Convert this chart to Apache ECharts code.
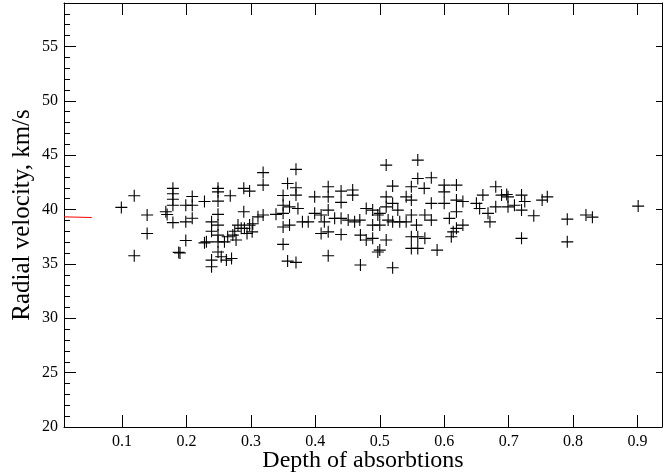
<!DOCTYPE html>
<html>
<head>
<meta charset="utf-8">
<title>Radial velocity vs depth</title>
<script src="https://cdn.jsdelivr.net/npm/echarts@6/dist/echarts.min.js"></script>
<style>
    html, body { margin: 0; padding: 0; background: #fff; }
    #main { width: 663px; height: 474px; }
</style>
</head>
<body>
<div id="main"></div>
<script>
// tick labels
var xTicks = [0.1, 0.2, 0.3, 0.4, 0.5, 0.6, 0.7, 0.8, 0.9];
var yTicks = [20, 25, 30, 35, 40, 45, 50, 55];
var yMajor = [25, 30, 35, 40, 45, 50, 55];

// depth / velocity pairs
var depth = [
    0.099, 0.119, 0.119, 0.139, 0.139, 0.168, 0.170,
    0.179, 0.179, 0.179, 0.179, 0.179, 0.188, 0.190,
    0.199, 0.199, 0.199, 0.209, 0.209, 0.209, 0.228, 0.228,
    0.249, 0.249, 0.249, 0.268, 0.289, 0.298, 0.319, 0.319, 0.289, 0.249,
    0.239, 0.239, 0.239, 0.239, 0.231,
    0.249, 0.249, 0.249, 0.249, 0.254, 0.259, 0.262, 0.270, 0.264, 0.272,
    0.277, 0.275, 0.280, 0.285, 0.290, 0.294, 0.298, 0.302, 0.303, 0.311,
    0.319, 0.339, 0.350, 0.350, 0.350, 0.350, 0.350, 0.357, 0.357,
    0.370, 0.370, 0.370, 0.360, 0.373, 0.360, 0.370,
    0.380, 0.389, 0.399, 0.399, 0.409, 0.409, 0.414,
    0.420, 0.420, 0.420, 0.420, 0.420,
    0.430, 0.440, 0.440, 0.440, 0.440, 0.451, 0.458, 0.458, 0.461, 0.469,
    0.470, 0.470, 0.479, 0.479, 0.489, 0.489, 0.489, 0.497, 0.497,
    0.510, 0.559, 0.520, 0.510, 0.500, 0.500, 0.510, 0.513, 0.520, 0.520,
    0.528, 0.531, 0.510, 0.500, 0.520,
    0.541, 0.541, 0.549, 0.549, 0.549, 0.549, 0.549,
    0.559, 0.557, 0.559, 0.559, 0.569, 0.570, 0.570,
    0.580, 0.580, 0.580, 0.589, 0.600, 0.600, 0.600, 0.608, 0.611,
    0.619, 0.619, 0.619, 0.619, 0.629, 0.629, 0.614,
    0.680, 0.660, 0.650, 0.655, 0.668, 0.671, 0.680, 0.689, 0.697, 0.699,
    0.699, 0.709, 0.720, 0.720, 0.725, 0.739, 0.720, 0.752, 0.760,
    0.791, 0.791, 0.820, 0.830, 0.901
];
var velocity = [
    40.20, 41.27, 35.75, 39.50, 37.80, 39.80, 39.55,
    41.95, 41.45, 40.95, 40.40, 38.80, 36.06, 36.00,
    40.40, 38.87, 37.16, 41.20, 40.40, 39.20, 40.74, 36.94,
    41.95, 41.63, 40.78, 41.27, 41.95, 41.70, 43.40, 42.25, 39.80, 39.56,
    38.87, 38.00, 35.35, 34.74, 37.03,
    38.57, 37.65, 37.03, 36.10, 35.66, 37.03, 35.35, 35.50, 37.50, 37.65,
    37.20, 38.00, 38.57, 38.27, 38.27, 37.80, 38.57, 37.95, 38.70, 39.33,
    39.50, 39.56, 41.30, 40.40, 39.65, 38.40, 36.80, 42.40, 35.26,
    43.70, 42.00, 41.33, 40.25, 40.10, 38.57, 35.14,
    38.87, 38.87, 41.17, 39.65, 39.50, 37.80, 38.87,
    42.10, 41.17, 39.95, 37.95, 35.75,
    39.19, 41.70, 40.66, 39.19, 37.70, 39.03, 41.80, 41.33, 38.87, 39.03,
    37.65, 34.90, 40.10, 37.20, 39.95, 38.57, 37.35, 36.10, 39.50,
    44.09, 44.55, 42.16, 41.17, 39.65, 38.57, 40.25, 39.03, 40.57, 38.87,
    39.95, 38.87, 37.20, 36.27, 34.65,
    41.17, 38.87, 42.10, 40.87, 39.50, 37.50, 36.43,
    42.86, 38.57, 37.50, 36.43, 41.95, 37.35, 39.50,
    42.92, 40.57, 39.03, 36.27, 42.25, 41.63, 40.57, 39.19, 37.50,
    42.25, 40.87, 39.80, 38.27, 40.74, 38.57, 37.95,
    42.10, 41.33, 40.57, 40.10, 39.65, 38.87, 40.25, 41.33, 41.39, 40.25,
    41.17, 40.40, 41.33, 39.95, 40.74, 39.43, 37.35, 40.87, 41.17,
    39.12, 37.03, 39.50, 39.30, 40.32
];

// short red fit line at the left edge
var fitX = [0.01, 0.053];
var fitY = [39.33, 39.27];

function buildPairs(xs, ys){
    var out = [];
    for (var i = 0; i < xs.length; i++) {
        out.push([xs[i], ys[i]]);
    }
    return out;
}

function drawChart(){
    var chart = echarts.init(document.getElementById('main'), null, {renderer: 'canvas'});
    var font = 'Liberation Serif';
    var plus = 'path://M5.45,0H6.55V5.45H12V6.55H6.55V12H5.45V6.55H0V5.45H5.45Z';

    var option = {
        animation: false,
        backgroundColor: '#fff',
        textStyle: {fontFamily: font},
        grid: {left: 64, top: 3, width: 598, height: 424, outerBoundsMode: 'none', containLabel: false},
        xAxis: [{
            type: 'value',
            min: 0.01,
            max: 0.938,
            position: 'bottom',
            axisLine: {lineStyle: {color: '#000', width: 1}},
            axisTick: {inside: true, length: 12, customValues: xTicks, lineStyle: {color: '#000'}},
            axisLabel: {customValues: xTicks, margin: 7, color: '#000', fontFamily: font, fontSize: 16},
            splitLine: {show: false},
            name: 'Depth of absorbtions',
            nameLocation: 'middle',
            nameGap: 22,
            nameMoveOverlap: false,
            nameTextStyle: {color: '#000', fontFamily: font, fontSize: 24}
        }, {
            type: 'value',
            min: 0.01,
            max: 0.938,
            position: 'top',
            axisLine: {lineStyle: {color: '#000', width: 1}},
            axisTick: {inside: true, length: 12, customValues: xTicks, lineStyle: {color: '#000'}},
            axisLabel: {show: false},
            splitLine: {show: false}
        }],
        yAxis: [{
            // minor ticks and labels
            type: 'value',
            min: 20,
            max: 59,
            interval: 1,
            position: 'left',
            axisLine: {show: true, lineStyle: {color: '#000', width: 1}},
            axisTick: {inside: true, length: 6, lineStyle: {color: '#000'}},
            axisLabel: {customValues: yTicks, margin: 6, color: '#000', fontFamily: font, fontSize: 16},
            splitLine: {show: false},
            name: 'Radial velocity, km/s',
            nameLocation: 'middle',
            nameGap: 29,
            nameMoveOverlap: false,
            nameTextStyle: {color: '#000', fontFamily: font, fontSize: 25}
        }, {
            // major ticks on the left
            type: 'value',
            min: 20,
            max: 59,
            position: 'left',
            axisLine: {show: false},
            axisTick: {inside: true, length: 12, customValues: yMajor, lineStyle: {color: '#000'}},
            axisLabel: {show: false},
            splitLine: {show: false}
        }, {
            // right spine
            type: 'value',
            min: 20,
            max: 59,
            position: 'right',
            axisLine: {show: true, lineStyle: {color: '#000', width: 1}},
            axisTick: {show: true, inside: true, length: 6, customValues: yMajor, lineStyle: {color: '#000'}},
            axisLabel: {show: false},
            splitLine: {show: false}
        }],
        series: [{
            type: 'scatter',
            data: buildPairs(depth, velocity),
            symbol: plus,
            symbolSize: 12,
            itemStyle: {color: '#000', opacity: 1}
        }, {
            type: 'line',
            data: buildPairs(fitX, fitY),
            showSymbol: false,
            lineStyle: {color: '#f00', width: 1}
        }]
    };
    chart.setOption(option);
}

drawChart();
</script>
</body>
</html>
